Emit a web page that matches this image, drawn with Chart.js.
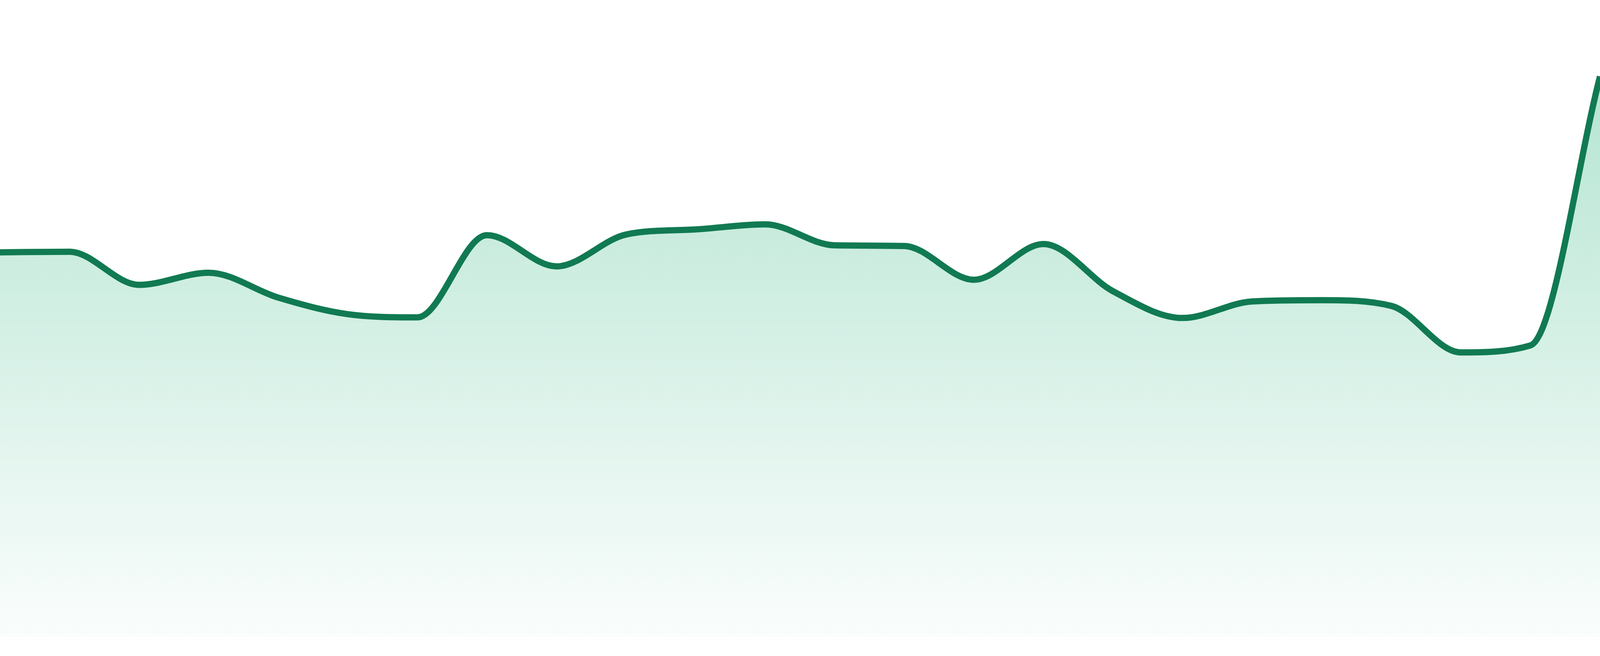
<!DOCTYPE html>
<html lang="en">
<head>
    <meta charset="UTF-8">
    <title>Trend</title>
    <script src="https://cdn.jsdelivr.net/npm/chart.js"></script>
    <style>
        html, body {
            margin: 0;
            padding: 0;
            overflow: hidden;
            background-color: #ffffff;
        }
        .chart-container {
            position: relative;
            width: 100vw;
            height: 100vh;
        }
    </style>
</head>
<body>
    <div class="chart-container">
        <canvas id="trendChart"></canvas>
    </div>

    <script>
        // Kategoriler ve seri değerleri
        const labels = ['1', '2', '3', '4', '5', '6', '7', '8', '9', '10', '11', '12',
                        '13', '14', '15', '16', '17', '18', '19', '20', '21', '22', '23', '24'];
        const values = [60.4, 60.5, 55.3, 57.2, 53.3, 50.7, 50.2, 63.1, 58.2, 63.2, 64.0, 64.8,
                         61.5, 61.4, 56.1, 61.7, 54.3, 50.1, 52.7, 52.9, 52.0, 44.7, 45.8, 88.0];
        const yMin = 0;
        const yMax = 100;

        // ölçek: referans 1680 piksel yükseklikte çizilmiş
        const k = window.innerHeight / 1680;

        const ctx = document.getElementById('trendChart').getContext('2d');
        new Chart(ctx, {
            type: 'line',
            data: {
                labels: labels,
                datasets: [{
                    data: values,
                    borderColor: '#117a52',
                    borderWidth: 16 * k,
                    pointRadius: 0,
                    pointHoverRadius: 0,
                    cubicInterpolationMode: 'monotone',
                    fill: 'start',
                    backgroundColor: function(context) {
                        const area = context.chart.chartArea;
                        if (!area) return 'rgba(16, 170, 110, 0.2)';
                        const g = context.chart.ctx.createLinearGradient(0, area.top, 0, area.bottom);
                        g.addColorStop(0, 'rgba(16, 170, 110, 0.35)');
                        g.addColorStop(1, 'rgba(16, 170, 110, 0.02)');
                        return g;
                    }
                }]
            },
            options: {
                responsive: true,
                maintainAspectRatio: false,
                animation: false,
                layout: {
                    padding: { top: 0, left: 0, right: 0, bottom: 48 * k }
                },
                plugins: {
                    legend: { display: false },
                    tooltip: { enabled: false }
                },
                scales: {
                    x: { display: false },
                    y: { display: false, min: yMin, max: yMax }
                }
            }
        });
    </script>
</body>
</html>
